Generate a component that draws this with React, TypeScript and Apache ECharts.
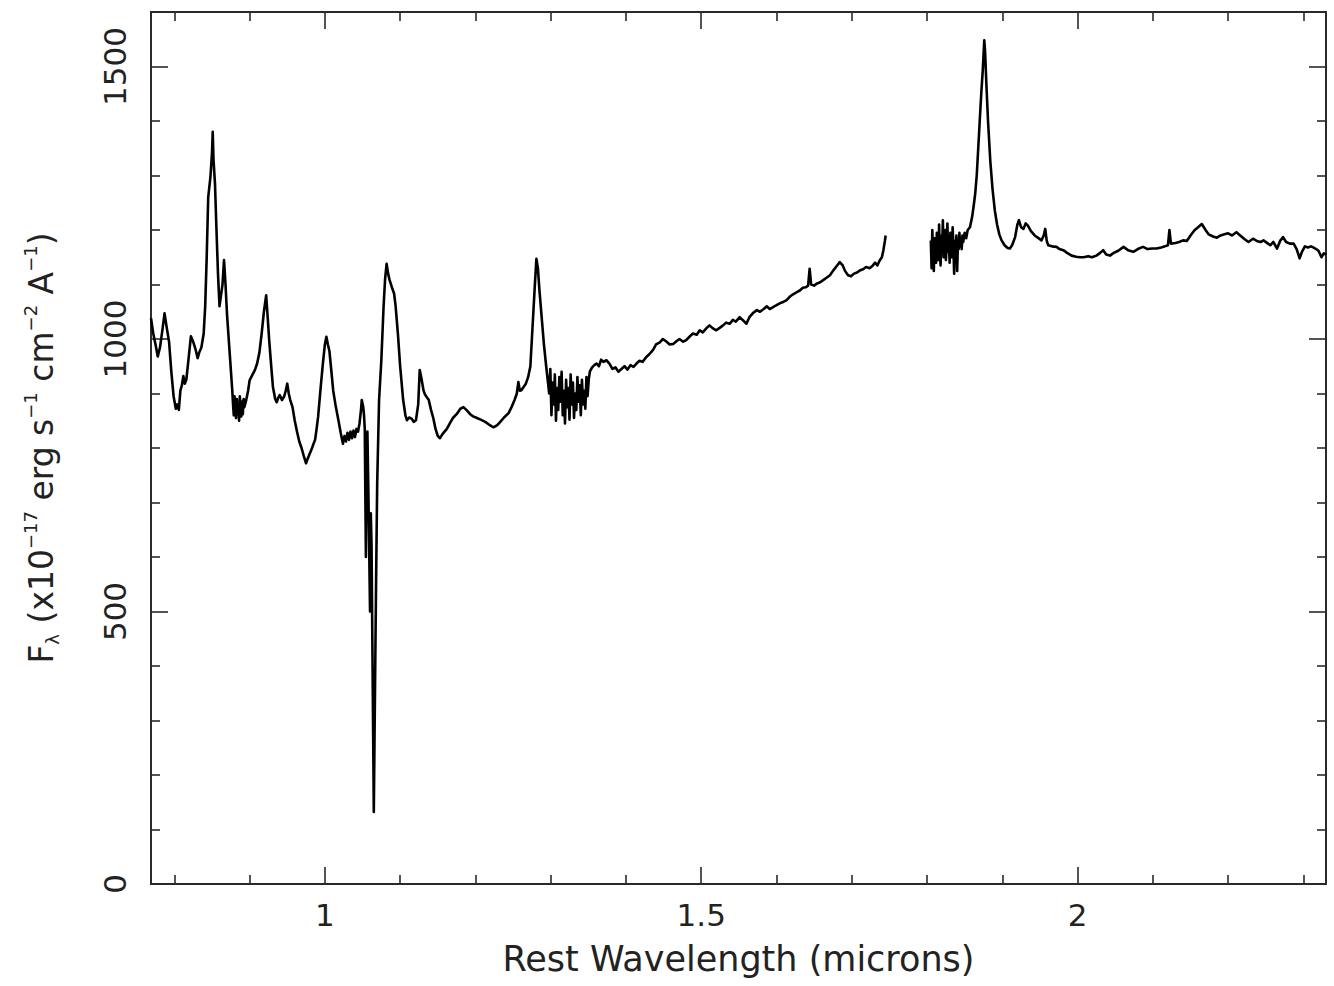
import React, { useEffect, useRef } from "react";
import * as echarts from "echarts";

// Rest wavelength (microns); null flux marks the gap in the spectrum
const wavelength: number[] = [
  0.769, 0.772, 0.775, 0.778, 0.781, 0.784, 0.787, 0.79, 0.793, 0.796, 0.799, 0.802, 0.804, 0.806, 0.808, 0.81, 0.812, 0.814, 0.816, 0.819,
  0.822, 0.825, 0.828, 0.831, 0.833, 0.836, 0.839, 0.841, 0.843, 0.845, 0.847, 0.848, 0.85, 0.851, 0.852, 0.854, 0.856, 0.858, 0.86, 0.862,
  0.864, 0.866, 0.868, 0.87, 0.873, 0.875, 0.877, 0.878, 0.879, 0.88, 0.881, 0.882, 0.883, 0.884, 0.885, 0.886, 0.887, 0.888, 0.889, 0.89,
  0.891, 0.892, 0.893, 0.895, 0.898, 0.9, 0.904, 0.907, 0.91, 0.913, 0.916, 0.919, 0.922, 0.924, 0.926, 0.929, 0.931, 0.934, 0.936, 0.938,
  0.94, 0.943, 0.946, 0.948, 0.95, 0.952, 0.954, 0.957, 0.96, 0.963, 0.966, 0.969, 0.972, 0.975, 0.977, 0.98, 0.983, 0.985, 0.987, 0.989,
  0.991, 0.994, 0.997, 1.0, 1.002, 1.004, 1.006, 1.008, 1.011, 1.014, 1.018, 1.021, 1.024, 1.026, 1.028, 1.03, 1.032, 1.034, 1.036, 1.038,
  1.04, 1.042, 1.044, 1.046, 1.048, 1.049, 1.051, 1.052, 1.053, 1.0545, 1.0555, 1.0565, 1.058, 1.06, 1.061, 1.062, 1.065, 1.068, 1.0695, 1.072,
  1.075, 1.078, 1.08, 1.082, 1.084, 1.086, 1.089, 1.092, 1.094, 1.097, 1.1, 1.104, 1.107, 1.109, 1.112, 1.115, 1.118, 1.121, 1.124, 1.126,
  1.128, 1.131, 1.133, 1.135, 1.138, 1.141, 1.144, 1.147, 1.15, 1.153, 1.156, 1.159, 1.162, 1.166, 1.17, 1.175, 1.18, 1.184, 1.188, 1.193,
  1.197, 1.202, 1.207, 1.213, 1.218, 1.224, 1.229, 1.233, 1.238, 1.244, 1.248, 1.252, 1.255, 1.257, 1.259, 1.261, 1.264, 1.267, 1.27, 1.273,
  1.275, 1.277, 1.279, 1.281, 1.283, 1.285, 1.288, 1.291, 1.294, 1.296, 1.298, 1.2995, 1.301, 1.3025, 1.304, 1.3055, 1.307, 1.3085, 1.31, 1.3115,
  1.313, 1.3145, 1.316, 1.3175, 1.319, 1.3205, 1.322, 1.3235, 1.325, 1.3265, 1.328, 1.3295, 1.331, 1.3325, 1.334, 1.3355, 1.337, 1.3385, 1.34, 1.3415,
  1.343, 1.3445, 1.346, 1.3475, 1.349, 1.3505, 1.352, 1.355, 1.358, 1.361, 1.364, 1.367, 1.37, 1.374, 1.378, 1.382, 1.386, 1.39, 1.394, 1.398,
  1.402, 1.406, 1.41, 1.414, 1.418, 1.422, 1.427, 1.431, 1.436, 1.44, 1.445, 1.449, 1.454, 1.458, 1.463, 1.467, 1.471, 1.476, 1.48, 1.485,
  1.489, 1.494, 1.498, 1.502, 1.507, 1.511, 1.515, 1.52, 1.524, 1.529, 1.533, 1.538, 1.542, 1.546, 1.551, 1.555, 1.56, 1.564, 1.569, 1.574,
  1.578, 1.583, 1.587, 1.591, 1.596, 1.6, 1.605, 1.609, 1.613, 1.618, 1.622, 1.627, 1.631, 1.635, 1.639, 1.642, 1.644, 1.646, 1.65, 1.654,
  1.658, 1.662, 1.666, 1.671, 1.675, 1.679, 1.684, 1.688, 1.691, 1.695, 1.699, 1.703, 1.707, 1.711, 1.715, 1.719, 1.724, 1.728, 1.731, 1.734,
  1.737, 1.74, 1.742, 1.744, 1.745, 1.775,
  1.805, 1.806, 1.807, 1.808, 1.809, 1.81, 1.811, 1.812, 1.813, 1.814, 1.815, 1.816, 1.817, 1.818, 1.819, 1.82, 1.821, 1.822, 1.823, 1.824,
  1.825, 1.826, 1.827, 1.828, 1.829, 1.83, 1.831, 1.832, 1.833, 1.834, 1.835, 1.836, 1.837, 1.838, 1.839, 1.84, 1.841, 1.842, 1.843, 1.844,
  1.845, 1.846, 1.847, 1.848, 1.85, 1.852, 1.854, 1.857, 1.86, 1.862, 1.864, 1.866, 1.868, 1.87, 1.872, 1.874, 1.876, 1.877, 1.879, 1.881,
  1.884, 1.887, 1.89, 1.893, 1.896, 1.899, 1.903, 1.907, 1.91, 1.913, 1.917, 1.92, 1.922, 1.925, 1.928, 1.931, 1.934, 1.938, 1.943, 1.948,
  1.952, 1.955, 1.957, 1.959, 1.961, 1.966, 1.972, 1.976, 1.981, 1.986, 1.992, 1.998, 2.003, 2.008, 2.014, 2.019, 2.025, 2.03, 2.034, 2.038,
  2.043, 2.048, 2.054, 2.061, 2.067, 2.074, 2.08, 2.087, 2.093, 2.099, 2.105, 2.111, 2.116, 2.12, 2.122, 2.124, 2.13, 2.135, 2.14, 2.145,
  2.15, 2.155, 2.16, 2.165, 2.17, 2.174, 2.18, 2.185, 2.19, 2.195, 2.2, 2.205, 2.211, 2.216, 2.222, 2.227, 2.233, 2.238, 2.243, 2.247,
  2.252, 2.256, 2.26, 2.265, 2.269, 2.273, 2.277, 2.282, 2.287, 2.291, 2.295, 2.298, 2.302, 2.306, 2.31, 2.313, 2.317, 2.32, 2.324, 2.327,
  2.33,
];

// F_lambda (x10^-17 erg s^-1 cm^-2 A^-1)
const flux: (number | null)[] = [
  1038, 1010, 990, 968, 985, 1015, 1047, 1020, 995, 940, 895, 872, 880, 870, 905, 915, 932, 918, 926, 965,
  1005, 995, 982, 965, 975, 985, 1010, 1060, 1150, 1260, 1285, 1298, 1340, 1380, 1330, 1285, 1200, 1120, 1060, 1080,
  1100, 1145, 1100, 1045, 985, 945, 905, 880, 860, 895, 870, 855, 890, 865, 880, 850, 895, 870, 858, 885,
  862, 890, 875, 885, 905, 924, 935, 943, 955, 975, 1010, 1050, 1080, 1040, 998, 945, 912, 890, 884, 892,
  897, 888, 895, 905, 918, 900, 888, 875, 850, 830, 812, 800, 785, 772, 780, 790, 800, 808, 815, 835,
  857, 905, 950, 990, 1004, 990, 978, 950, 906, 880, 851, 828, 808, 822, 812, 828, 815, 830, 818, 832,
  820, 835, 830, 845, 870, 888, 875, 860, 835, 600, 780, 830, 700, 500, 680, 620, 132, 552, 735, 888,
  961, 1060, 1110, 1138, 1120, 1108, 1095, 1083, 1060, 1010, 950, 888, 860, 851, 856, 854, 848, 851, 880, 943,
  930, 906, 898, 894, 888, 870, 855, 835, 822, 818, 825, 830, 835, 845, 855, 862, 872, 875, 870, 862,
  858, 855, 852, 848, 843, 838, 842, 848, 856, 864, 875, 888, 900, 921, 905, 906, 912, 918, 930, 950,
  1000, 1050, 1100, 1147, 1130, 1090, 1040, 990, 950, 925, 900, 945, 860, 920, 880, 935, 850, 910, 870, 930,
  885, 940, 860, 905, 845, 925, 875, 910, 852, 935, 880, 920, 855, 900, 870, 930, 885, 915, 860, 925,
  880, 905, 872, 930, 895, 925, 940, 948, 952, 955, 950, 962, 958, 961, 955, 945, 948, 940, 945, 950,
  944, 952, 949, 955, 960, 958, 967, 972, 980, 990, 994, 1000, 995, 990, 991, 996, 1000, 995, 998, 1005,
  1010, 1008, 1016, 1012, 1020, 1025, 1020, 1016, 1020, 1025, 1030, 1028, 1035, 1032, 1040, 1035, 1028, 1040, 1048, 1053,
  1050, 1055, 1060, 1055, 1059, 1062, 1066, 1068, 1071, 1078, 1082, 1086, 1089, 1094, 1095, 1098, 1129, 1100, 1098, 1102,
  1104, 1108, 1112, 1117, 1125, 1132, 1141, 1135, 1125, 1117, 1115, 1120, 1122, 1126, 1128, 1132, 1130, 1135, 1140, 1135,
  1144, 1150, 1163, 1180, 1190, null,
  1181, 1130, 1200, 1150, 1125, 1185, 1160, 1140, 1195, 1165, 1145, 1210, 1155, 1135, 1190, 1160, 1218, 1150, 1175, 1200,
  1145, 1170, 1212, 1160, 1180, 1140, 1195, 1165, 1150, 1205, 1170, 1120, 1180, 1160, 1190, 1125, 1175, 1165, 1195, 1170,
  1180, 1165, 1190, 1178, 1195, 1185, 1200, 1205, 1225, 1245, 1267, 1300, 1350, 1401, 1450, 1493, 1548, 1530, 1462, 1400,
  1327, 1275, 1236, 1210, 1192, 1181, 1172, 1167, 1166, 1172, 1187, 1210, 1218, 1205, 1202, 1212, 1208, 1198, 1190, 1185,
  1181, 1190, 1202, 1180, 1172, 1170, 1169, 1165, 1163, 1158, 1153, 1151, 1150, 1150, 1152, 1150, 1153, 1158, 1163, 1155,
  1153, 1158, 1162, 1169, 1163, 1160, 1165, 1169, 1165, 1166, 1166, 1168, 1170, 1172, 1200, 1175, 1176, 1178, 1181, 1180,
  1190, 1199, 1205, 1211, 1200, 1192, 1188, 1186, 1190, 1192, 1194, 1190, 1196, 1190, 1183, 1178, 1184, 1180, 1178, 1181,
  1176, 1172, 1178, 1166, 1180, 1187, 1178, 1175, 1175, 1165, 1148, 1160, 1170, 1168, 1170, 1168, 1165, 1162, 1150, 1157,
  1155,
];

const xMajorTicks = [1, 1.5, 2];
const xMinorTicks = [0.8, 0.9, 1.1, 1.2, 1.3, 1.4, 1.6, 1.7, 1.8, 1.9, 2.1, 2.2, 2.3];
const yMajorTicks = [0, 500, 1000, 1500];
const yMinorTicks = [100, 200, 300, 400, 600, 700, 800, 900, 1100, 1200, 1300, 1400];

const X_MIN = 0.769;
const X_MAX = 2.33;
const Y_MIN = 0;
const Y_MAX = 1600;

const FONT = "DejaVu Sans";
const AXIS_COLOR = "#2a2a2a";
const TEXT_COLOR = "#222";

export default function App() {
  const ref = useRef<HTMLDivElement>(null);

  useEffect(() => {
    if (!ref.current) return;
    const chart = echarts.init(ref.current, undefined, { renderer: "svg" });

    const points = wavelength.map((w, i) => [w, flux[i] === null ? "-" : flux[i]]);

    const lineStyle = { color: AXIS_COLOR, width: 2 };
    const plain = (v: number) => String(v);
    const mkX = (position: "bottom" | "top", ticks: number[], len: number, main: boolean, labels: boolean) => ({
      type: "value",
      position,
      min: X_MIN,
      max: X_MAX,
      axisLine: { show: main, onZero: false, lineStyle },
      axisTick: { show: true, inside: true, length: len, customValues: ticks, lineStyle: { color: AXIS_COLOR, width: 1.6 } },
      axisLabel: labels
        ? { show: true, customValues: ticks, formatter: plain, margin: 15, fontFamily: FONT, fontSize: 31, color: TEXT_COLOR }
        : { show: false },
      splitLine: { show: false },
      ...(labels
        ? {
            name: "Rest Wavelength (microns)",
            nameLocation: "middle",
            nameGap: 57,
            nameTextStyle: { fontFamily: FONT, fontSize: 35, color: TEXT_COLOR },
          }
        : {}),
    });
    const mkY = (position: "left" | "right", ticks: number[], len: number, main: boolean, labels: boolean) => ({
      type: "value",
      position,
      min: Y_MIN,
      max: Y_MAX,
      axisLine: { show: main, onZero: false, lineStyle },
      axisTick: { show: true, inside: true, length: len, customValues: ticks, lineStyle: { color: AXIS_COLOR, width: 1.6 } },
      axisLabel: labels
        ? { show: true, customValues: ticks, formatter: plain, rotate: 90, margin: 21, fontFamily: FONT, fontSize: 31, color: TEXT_COLOR }
        : { show: false },
      splitLine: { show: false },
      ...(labels
        ? {
            name: "{t|F}{sub|λ}{t| (x10}{sup|−17}{t| erg s}{sup|−1}{t| cm}{sup|−2}{t| A}{sup|−1}{t|)}",
            nameLocation: "middle",
            nameGap: 90,
            nameRotate: 90,
            nameTextStyle: {
              fontFamily: FONT,
              fontSize: 33,
              color: TEXT_COLOR,
              rich: {
                t: { fontFamily: FONT, fontSize: 33, lineHeight: 40, color: TEXT_COLOR },
                sup: { fontFamily: FONT, fontSize: 18, lineHeight: 28, verticalAlign: "top", color: TEXT_COLOR },
                sub: { fontFamily: FONT, fontSize: 18, lineHeight: 14, verticalAlign: "bottom", color: TEXT_COLOR },
              },
            },
          }
        : {}),
    });

    chart.setOption({
      animation: false,
      backgroundColor: "#ffffff",
      grid: { left: 151, right: 8, top: 12, bottom: 102, containLabel: false },
      xAxis: [
        mkX("bottom", xMajorTicks, 17, true, true),
        mkX("bottom", xMinorTicks, 9, false, false),
        mkX("top", xMajorTicks, 17, true, false),
        mkX("top", xMinorTicks, 9, false, false),
      ],
      yAxis: [
        mkY("left", yMajorTicks, 17, true, true),
        mkY("left", yMinorTicks, 9, false, false),
        mkY("right", yMajorTicks, 17, true, false),
        mkY("right", yMinorTicks, 9, false, false),
      ],
      series: [
        {
          type: "line",
          xAxisIndex: 0,
          yAxisIndex: 0,
          data: points,
          showSymbol: false,
          symbol: "none",
          connectNulls: false,
          lineStyle: { color: "#000", width: 2.6, join: "round" },
          silent: true,
        },
      ],
    });

    return () => chart.dispose();
  }, []);

  return (
    <div
      ref={ref}
      style={{ position: "absolute", left: 0, top: 0, width: 1334, height: 986, background: "#fff" }}
    />
  );
}
